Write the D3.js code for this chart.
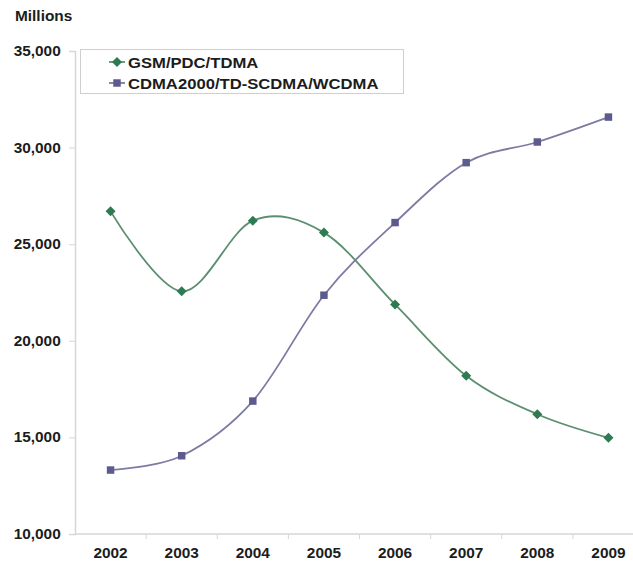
<!DOCTYPE html>
<html lang="en">
<head>
<meta charset="UTF-8">
<title>GSM vs CDMA subscriptions</title>
<script src="https://cdn.jsdelivr.net/npm/d3@7"></script>
<style>
  html, body { margin: 0; padding: 0; background: #fff; }
  svg { display: block; font-family: "Liberation Sans", Arial, sans-serif; }
  .lbl { font-weight: bold; fill: #1c1c1c; }
</style>
</head>
<body>
<div id="chart"></div>
<script>
const years = ["2002", "2003", "2004", "2005", "2006", "2007", "2008", "2009"];
const gsm = [26700, 22560, 26220, 25600, 21880, 18190, 16200, 14980];
const cdma = [13310, 14050, 16880, 22360, 26120, 29220, 30290, 31580];
const yTicks = [10000, 15000, 20000, 25000, 30000, 35000];
const seriesNames = ["GSM/PDC/TDMA", "CDMA2000/TD-SCDMA/WCDMA"];

const width = 633, height = 562;
const svg = d3.select("#chart").append("svg")
  .attr("width", width).attr("height", height);

const x = d3.scaleBand().domain(years).range([75, 644]).padding(0);
const y = d3.scaleLinear().domain([10000, 35000]).range([534, 51]);

const fmt = d3.format(",");
const axisColor = "#d6d6d6";
const stretch = 1.1; // source text is a bit wider than plain Arial

// y axis
const yAxis = svg.append("g")
  .attr("transform", "translate(75,0)")
  .call(d3.axisLeft(y).tickValues(yTicks).tickSize(6).tickPadding(7).tickFormat(fmt));
yAxis.select(".domain").attr("stroke", axisColor).attr("stroke-width", 1.5);
yAxis.selectAll(".tick line").attr("stroke", axisColor);
yAxis.selectAll(".tick text").attr("class", "lbl").style("font-size", "14px")
  .attr("fill", "#1c1c1c")
  .attr("transform", `scale(${stretch},1)`);

// x axis: ticks between categories
const xAxis = svg.append("g").attr("transform", "translate(0,534)");
xAxis.append("line").attr("x1", 75).attr("x2", 644)
  .attr("stroke", axisColor).attr("stroke-width", 1.5);
xAxis.selectAll("line.tk").data(years.slice(1)).join("line")
  .attr("class", "tk")
  .attr("x1", d => x(d)).attr("x2", d => x(d))
  .attr("y1", 0).attr("y2", 5).attr("stroke", axisColor);
xAxis.selectAll("text").data(years).join("text")
  .attr("class", "lbl")
  .attr("transform", d => `translate(${x(d) + x.bandwidth() / 2},24) scale(${stretch},1)`)
  .attr("text-anchor", "middle")
  .style("font-size", "14px")
  .text(d => d);

svg.append("text").attr("class", "lbl")
  .attr("transform", `translate(15,21) scale(${stretch},1)`)
  .style("font-size", "14px")
  .text("Millions");

const cx = d => x(d) + x.bandwidth() / 2;
const line = d3.line().curve(d3.curveCardinal.tension(0));

const series = [
  { name: seriesNames[0], values: gsm, line: "#5c8f6f", mark: "#2e7a52", shape: d3.symbolSquare, size: 50, rot: 45 },
  { name: seriesNames[1], values: cdma, line: "#7d7ba3", mark: "#5d5b8e", shape: d3.symbolSquare, size: 56, rot: 0 }
];

series.forEach(s => {
  const pts = years.map((yr, i) => [cx(yr), y(s.values[i])]);
  svg.append("path")
    .attr("d", line(pts))
    .attr("fill", "none")
    .attr("stroke", s.line)
    .attr("stroke-width", 1.8);
  svg.selectAll(null).data(pts).join("path")
    .attr("transform", d => `translate(${d[0]},${d[1]}) rotate(${s.rot})`)
    .attr("d", d3.symbol().type(s.shape).size(s.size))
    .attr("fill", s.mark);
});

// legend
const legend = svg.append("g");
legend.append("rect")
  .attr("x", 80.5).attr("y", 49.5).attr("width", 323).attr("height", 44)
  .attr("fill", "#fff").attr("stroke", "#cfcfcf");
series.forEach((s, i) => {
  const ly = 62 + i * 21;
  legend.append("line").attr("x1", 109).attr("x2", 125).attr("y1", ly).attr("y2", ly)
    .attr("stroke", s.line).attr("stroke-width", 1.8);
  legend.append("path")
    .attr("transform", `translate(117,${ly}) rotate(${s.rot})`)
    .attr("d", d3.symbol().type(s.shape).size(s.size))
    .attr("fill", s.mark);
  legend.append("text").attr("class", "lbl")
    .attr("transform", `translate(128,${ly + 5.5}) scale(1.11,1)`)
    .style("font-size", "15px")
    .text(s.name);
});
</script>
</body>
</html>
